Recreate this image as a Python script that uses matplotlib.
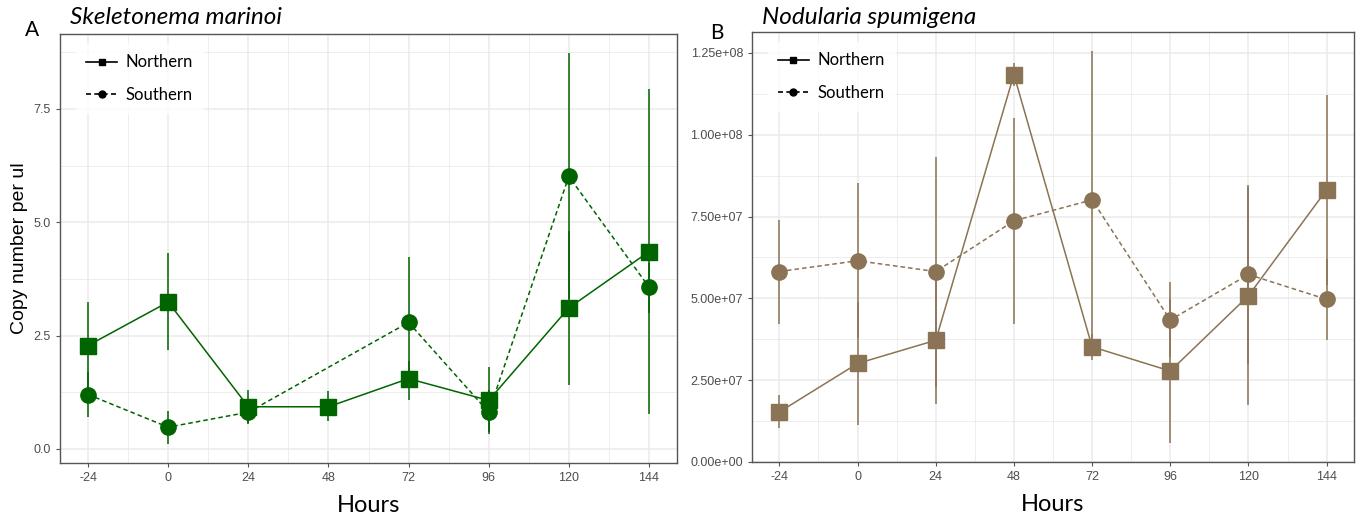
import numpy as np
from matplotlib import pyplot as plt
from matplotlib.lines import Line2D
from matplotlib.ticker import FuncFormatter, MultipleLocator

# Sampling hours
hours = [-24, 0, 24, 48, 72, 96, 120, 144]

# Skeletonema marinoi, copy number per ul
sk_north = [2.28, 3.24, 0.93, 0.93, 1.55, 1.07, 3.11, 4.35]
sk_north_lo = [1.32, 2.19, 0.58, 0.61, 1.09, 0.38, 1.40, 0.76]
sk_north_hi = [3.24, 4.31, 1.29, 1.27, 1.95, 1.80, 4.80, 7.94]
sk_south = [1.20, 0.48, 0.81, np.nan, 2.79, 0.81, 6.01, 3.57]
sk_south_lo = [0.71, 0.10, 0.54, np.nan, 1.35, 0.32, 3.30, 3.00]
sk_south_hi = [1.69, 0.83, 1.05, np.nan, 4.24, 1.30, 8.74, 4.10]

# Nodularia spumigena, copy number per ul (x 1e7)
nod_north = [1.53, 3.01, 3.72, 11.84, 3.52, 2.78, 5.08, 8.32]
nod_north_lo = [1.04, 1.14, 1.77, 11.50, 3.11, 0.58, 1.73, 5.40]
nod_north_hi = [2.04, 4.90, 5.60, 12.20, 3.90, 4.98, 8.40, 11.20]
nod_south = [5.82, 6.15, 5.82, 7.37, 8.01, 4.34, 5.73, 4.97]
nod_south_lo = [4.23, 3.80, 2.30, 4.23, 3.50, 3.20, 3.00, 3.72]
nod_south_hi = [7.40, 8.54, 9.33, 10.50, 12.55, 5.51, 8.45, 6.20]

GREEN = '#006400'
BROWN = '#8b7355'
GRID = '#ebebeb'

plt.rcParams['font.family'] = ['Lato', 'DejaVu Sans']
plt.rcParams['axes.unicode_minus'] = False

fig = plt.figure(figsize=(13.57, 5.14), dpi=100)
W, H = 1357, 514
ax_a = fig.add_axes([60 / W, 1 - 463 / H, (677 - 60) / W, (463 - 34) / H])
ax_b = fig.add_axes([752 / W, 1 - 462 / H, (1354 - 752) / W, (462 - 32) / H])


def draw_panel(ax, north, nlo, nhi, south, slo, shi, color, scale=1.0):
    x = np.array(hours, dtype=float)
    n = np.array(north) * scale
    s = np.array(south) * scale
    ax.vlines(x, np.array(nlo) * scale, np.array(nhi) * scale, color=color, lw=1.1, zorder=2)
    ax.vlines(x, np.array(slo) * scale, np.array(shi) * scale, color=color, lw=1.1, zorder=2)
    ax.plot(x, n, color=color, lw=1.1, zorder=3)
    ok = ~np.isnan(s)
    ax.plot(x[ok], s[ok], color=color, lw=1.1, ls=(0, (3, 2)), zorder=3)
    ax.plot(x, n, ls='none', marker='s', ms=11.5, color=color, zorder=4)
    ax.plot(x, s, ls='none', marker='o', ms=11, color=color, zorder=4)

    ax.set_xlim(-32.4, 152.4)
    ax.set_xticks(hours)
    ax.xaxis.set_minor_locator(MultipleLocator(24, offset=12))
    ax.grid(True, which='major', color=GRID, lw=1.1, zorder=0)
    ax.grid(True, which='minor', color=GRID, lw=0.6, zorder=0)
    ax.set_axisbelow(True)
    for sp in ax.spines.values():
        sp.set_color('#555555')
        sp.set_linewidth(1.0)
    ax.tick_params(which='major', length=3, color='#555555', labelsize=9,
                   labelcolor='#4d4d4d')
    ax.tick_params(which='minor', length=0)
    for lab in ax.get_xticklabels() + ax.get_yticklabels():
        lab.set_family('Liberation Sans')
    ax.set_xlabel('Hours', fontsize=17, labelpad=8)

    handles = [
        Line2D([], [], color='black', lw=1.2, marker='s', ms=5),
        Line2D([], [], color='black', lw=1.2, ls=(0, (3, 2)), marker='o', ms=5),
    ]
    leg = ax.legend(handles, ['Northern', 'Southern'], loc='upper left',
                    bbox_to_anchor=(0.012, 0.995), fontsize=12, frameon=True,
                    fancybox=False, handlelength=1.9, labelspacing=1.0,
                    handletextpad=0.5, borderpad=0.6)
    leg.get_frame().set_facecolor('white')
    leg.get_frame().set_edgecolor('white')


draw_panel(ax_a, sk_north, sk_north_lo, sk_north_hi,
           sk_south, sk_south_lo, sk_south_hi, GREEN)
ax_a.set_ylim(-0.31, 9.15)
ax_a.set_yticks([0, 2.5, 5.0, 7.5])
ax_a.yaxis.set_minor_locator(MultipleLocator(2.5, offset=1.25))
ax_a.yaxis.set_major_formatter(FuncFormatter(lambda v, p: f'{v:.1f}'))
ax_a.set_ylabel('Copy number per ul', fontsize=14, labelpad=4,
                family=['Liberation Sans Narrow', 'Liberation Sans'])
for lab in ax_a.get_yticklabels():
    lab.set_family('Liberation Sans')

draw_panel(ax_b, nod_north, nod_north_lo, nod_north_hi,
           nod_south, nod_south_lo, nod_south_hi, BROWN, scale=1e7)
ax_b.set_ylim(0, 1.314e8)
ax_b.set_yticks(np.arange(0, 1.26e8, 2.5e7))
ax_b.yaxis.set_minor_locator(MultipleLocator(2.5e7, offset=1.25e7))
ax_b.yaxis.set_major_formatter(FuncFormatter(lambda v, p: f'{v:.2e}'))
for lab in ax_b.get_yticklabels():
    lab.set_family('Liberation Sans')

fig.text(70 / W, 1 - 18 / H, 'Skeletonema marinoi', fontsize=17.5, style='italic',
         va='center', ha='left')
fig.text(25 / W, 1 - 30 / H, 'A', fontsize=15, va='center', ha='left')
fig.text(762 / W, 1 - 18 / H, 'Nodularia spumigena', fontsize=17.5, style='italic',
         va='center', ha='left')
fig.text(710 / W, 1 - 33 / H, 'B', fontsize=15, va='center', ha='left')

fig.savefig('out.png', dpi=100)
